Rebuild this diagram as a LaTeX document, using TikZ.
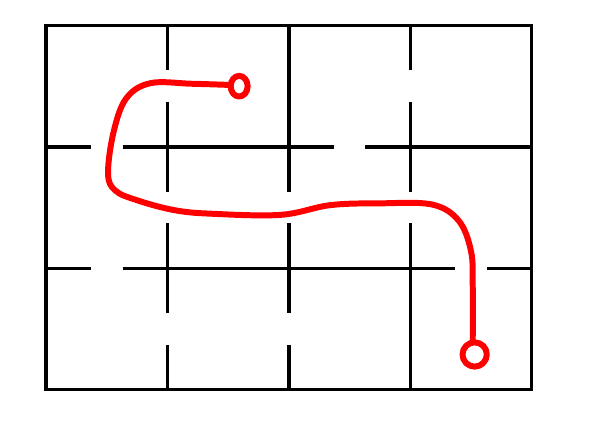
\documentclass[tikz,border=0pt]{standalone}
\begin{document}
\begin{tikzpicture}[x=2cm,y=2cm,
    wall/.style={line width=1.6pt},
    route/.style={red,line width=2.8pt,line cap=round,line join=round}]
        \useasboundingbox (-0.38,-0.30) rectangle (4.48,3.21);

        % outer frame
        \draw[wall] (0,0) rectangle (4,3);

        % inner walls, vertical
        \draw[wall] (1,3) -- (1,2.63);
        \draw[wall] (1,2.37) -- (1,1.63);
        \draw[wall] (1,1.37) -- (1,0.63);
        \draw[wall] (1,0.37) -- (1,0);

        \draw[wall] (2,3) -- (2,1.63);
        \draw[wall] (2,1.37) -- (2,0.63);
        \draw[wall] (2,0.37) -- (2,0);

        \draw[wall] (3,3) -- (3,2.63);
        \draw[wall] (3,2.37) -- (3,1.63);
        \draw[wall] (3,1.37) -- (3,0);

        % inner walls, horizontal
        \draw[wall] (0,2) -- (0.37,2);
        \draw[wall] (0.63,2) -- (2.37,2);
        \draw[wall] (2.63,2) -- (4,2);

        \draw[wall] (0,1) -- (0.37,1);
        \draw[wall] (0.63,1) -- (3.37,1);
        \draw[wall] (3.63,1) -- (4,1);

        % route through the maze
        \draw[route] (1.59,2.50) ellipse [x radius=0.07, y radius=0.085];
        \draw[route] plot[smooth,tension=0.6] coordinates {
            (1.52,2.51) (1.2,2.52) (0.86,2.525) (0.66,2.40) (0.555,2.12)
            (0.51,1.78) (0.57,1.64) (0.75,1.56) (1.05,1.48) (1.35,1.45)
            (1.93,1.44) (2.34,1.52) (2.75,1.535) (3.18,1.525) (3.40,1.39)
            (3.50,1.14) (3.514,0.86) (3.514,0.40)};
        \draw[route] (3.53,0.29) circle [radius=0.1];

\end{tikzpicture}
\end{document}
